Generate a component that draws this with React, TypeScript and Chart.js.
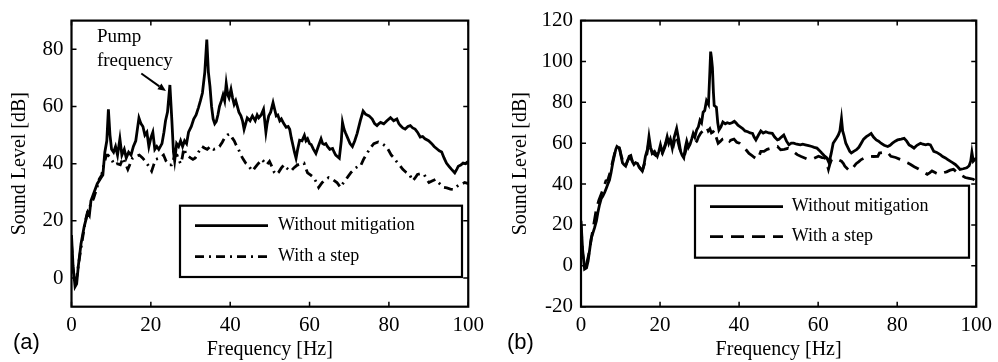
import React, { useEffect, useRef } from 'react';
import { Chart, registerables } from 'chart.js';

Chart.register(...registerables);

// ---------- DATA ----------
const xTicks = [0, 20, 40, 60, 80, 100];
const yTicksA = [0, 20, 40, 60, 80];
const yTicksB = [-20, 0, 20, 40, 60, 80, 100, 120];
const seriesNames = ['Without mitigation', 'With a step'];
const xTitle = 'Frequency [Hz]';
const yTitle = 'Sound Level [dB]';
const panelLabels = ['(a)', '(b)'];
const annotationLines = ['Pump', 'frequency'];

// (a) without mitigation
const freqA1 = [0, 0.4, 0.9, 1.3, 1.7, 2.4, 3.2, 4.1, 4.5, 4.9, 5.7, 6.5, 7.4, 7.9, 8.4, 8.9, 9.3, 9.7, 10.1, 10.6, 11.1, 11.6, 12.2, 12.7, 13.3, 13.8, 14.4, 15.0, 15.6, 16.2, 16.6, 17.0, 17.5, 18.0, 18.5, 19.0, 19.5, 20.0, 20.5, 21.0, 21.5, 22.0, 22.8, 23.3, 23.7, 24.2, 24.8, 25.3, 25.7, 26.0, 26.5, 27.0, 27.5, 28.0, 28.5, 29.0, 29.5, 30.2, 30.8, 31.4, 32.0, 32.5, 33.0, 33.6, 34.1, 34.5, 34.9, 35.3, 35.7, 36.1, 36.5, 36.9, 37.3, 37.8, 38.2, 38.6, 39.0, 39.4, 39.7, 40.2, 40.6, 41.0, 41.4, 41.8, 42.2, 42.7, 43.1, 43.5, 43.9, 44.3, 45.0, 45.6, 46.3, 46.8, 47.2, 47.8, 48.4, 48.7, 49.0, 49.3, 49.7, 50.2, 50.8, 51.2, 51.6, 52.0, 52.5, 52.9, 53.5, 54.1, 54.6, 55.0, 55.4, 55.8, 56.2, 56.6, 57.0, 57.5, 58.1, 58.7, 59.1, 59.5, 60.0, 60.4, 61.0, 61.6, 62.2, 62.9, 63.3, 63.7, 64.1, 64.5, 65.1, 65.8, 66.2, 66.6, 67.0, 67.5, 68.0, 68.3, 68.7, 69.1, 69.6, 70.2, 70.8, 71.4, 72.0, 72.8, 73.5, 74.1, 75.0, 75.8, 76.4, 77.0, 77.5, 77.9, 78.7, 79.5, 80.4, 81.2, 82.0, 82.5, 82.9, 83.5, 84.1, 84.8, 85.4, 86.0, 86.6, 87.2, 87.9, 88.5, 89.1, 90.0, 90.8, 91.4, 92.0, 92.7, 93.3, 93.9, 94.5, 95.2, 95.8, 96.6, 97.1, 97.5, 98.1, 98.7, 99.3, 100];
const levelA1 = [15, 4, -3, -2, 4, 12, 18, 23, 22, 27, 30, 33, 35, 36, 44, 48, 59, 50, 45, 44, 46, 43, 48.7, 43, 45, 42, 44, 43, 46, 48, 52, 56, 54, 53, 50, 51, 46, 49, 51, 45, 46, 45, 47, 51, 55, 58, 67.5, 55, 44, 41, 47, 46, 48, 46, 48, 47, 51, 53, 55.6, 57, 59.6, 62, 64.7, 72, 83.4, 72, 67, 60, 55.6, 54, 54.8, 57, 60, 62, 64, 62, 68, 64, 63, 66, 63, 60.7, 62, 60, 58, 56.7, 55, 52, 54, 56, 55, 56.7, 55, 57, 56, 57, 59, 55, 51, 54, 56.7, 58, 61.3, 59, 56.7, 57, 55, 55.6, 54, 52.7, 53, 52, 49, 46.5, 44, 41.9, 45, 48.2, 48, 49.9, 48, 48.7, 47, 46.7, 45, 43.6, 46, 48.7, 47, 46.7, 47, 46, 45, 45.3, 44, 43, 42.5, 41.9, 48, 54.4, 52, 50.6, 49, 47, 46, 48, 50.6, 55, 58.4, 57.3, 56.7, 55.6, 54, 53.3, 54, 54.4, 53.9, 55, 56.1, 55, 55.6, 54, 53.3, 52.5, 52.1, 53, 53.3, 52.5, 52.1, 51, 49.3, 49.5, 48.7, 48, 47, 46, 45.3, 44.5, 44.1, 42, 40.2, 39, 38, 36.8, 38, 39.1, 39.5, 40.2, 40, 40.8];

// (a) with a step
const freqA2 = [0, 0.4, 0.9, 1.4, 2.0, 2.8, 3.5, 4.2, 5.0, 5.6, 6.3, 7.0, 7.6, 8.2, 8.8, 9.2, 9.8, 10.3, 10.7, 11.5, 12.3, 13.0, 13.6, 14.2, 14.8, 15.4, 16.2, 17.1, 17.9, 18.7, 19.5, 20.2, 20.7, 21.2, 22.4, 23.2, 23.8, 24.5, 25.2, 25.6, 26.0, 26.6, 27.0, 27.5, 27.9, 28.3, 28.7, 29.0, 30.0, 30.6, 31.2, 32.0, 32.9, 33.5, 34.2, 35.0, 35.8, 36.6, 37.3, 38.0, 38.7, 39.3, 39.9, 40.5, 41.0, 41.5, 42.1, 42.7, 43.3, 43.9, 44.5, 45.0, 45.6, 46.2, 46.8, 47.4, 48.0, 48.6, 49.2, 49.9, 50.5, 51.1, 51.6, 52.2, 52.9, 53.6, 54.2, 54.8, 55.3, 56.1, 56.9, 57.8, 58.6, 59.0, 59.5, 60.3, 61.1, 61.7, 62.3, 63.2, 64.0, 64.8, 65.8, 66.9, 67.8, 68.6, 69.5, 70.5, 71.6, 72.2, 72.8, 73.6, 74.5, 75.3, 76.2, 77.3, 78.3, 79.4, 80.0, 80.6, 81.3, 81.9, 82.7, 83.5, 84.3, 85.2, 86.0, 86.6, 87.2, 88.0, 88.9, 89.5, 90.1, 91.0, 91.8, 92.8, 93.8, 94.6, 95.5, 96.3, 97.1, 97.9, 98.5, 99.1, 100];
const levelA2 = [12, 3, -2, 1, 7, 14, 20, 24, 26, 28, 31, 34.6, 36, 40, 43, 43, 42, 41, 39.6, 40, 39.6, 42, 40, 38, 40, 42, 42.5, 43, 42, 40.7, 39, 37.4, 39.5, 41.5, 42, 43, 41, 39.6, 39.6, 41, 43, 43, 41.5, 40, 42, 45.3, 44, 43, 42, 41.5, 42, 44, 46, 45.5, 45, 46, 45, 45.3, 46, 47.5, 49.3, 50, 50.4, 49, 48, 46.5, 45, 43, 41.5, 40.2, 39.5, 38.5, 37.4, 38.5, 39.6, 40.5, 41.5, 40.5, 39.6, 40.8, 39, 37, 36.2, 37, 38.5, 39.6, 38.5, 37.8, 37.4, 38.6, 39.5, 40, 40.2, 38.5, 36.8, 36, 35.1, 33.5, 31.7, 33.4, 34.5, 35.1, 34.5, 33.4, 31.7, 33.5, 35.1, 37, 38.5, 39, 39, 41.5, 43.6, 45.5, 47, 47.6, 47, 45.9, 44.5, 43, 42, 40.8, 39.5, 38, 37, 36.2, 34, 35, 36.2, 36.5, 36.2, 34.5, 33.4, 34, 34.5, 33, 31.7, 31.5, 31.1, 31, 32, 32.8, 33, 33.4, 33];

// (b) without mitigation
const freqB1 = [0, 0.4, 0.9, 1.4, 1.8, 2.2, 2.6, 3.0, 3.4, 3.9, 4.3, 4.7, 5.1, 5.5, 6.0, 6.4, 6.8, 7.2, 7.6, 8.0, 8.4, 8.8, 9.1, 9.4, 9.7, 10.1, 10.5, 10.9, 11.3, 11.7, 12.2, 12.6, 13.0, 13.4, 13.8, 14.3, 14.8, 15.5, 15.9, 16.3, 16.8, 17.2, 17.6, 18.0, 18.6, 19.3, 19.7, 20.1, 20.5, 21.0, 21.4, 21.8, 22.2, 22.6, 23.1, 23.6, 24.2, 24.7, 25.2, 25.6, 26.0, 26.4, 26.75, 27.2, 27.6, 28.0, 28.4, 28.8, 29.25, 29.7, 30.1, 30.5, 30.9, 31.3, 31.75, 32.25, 32.6, 32.8, 33.0, 33.25, 33.5, 33.7, 34.25, 34.6, 34.9, 35.4, 35.9, 36.5, 37.0, 37.6, 38.2, 38.8, 39.2, 39.7, 40.3, 40.9, 41.5, 42.2, 42.8, 43.4, 43.8, 44.25, 44.9, 45.5, 46.1, 46.75, 47.5, 48.4, 49.0, 49.7, 50.1, 50.7, 51.3, 52.0, 52.6, 53.2, 53.8, 54.6, 55.5, 56.1, 56.75, 57.6, 58.4, 59.0, 59.7, 60.3, 60.9, 61.5, 62.2, 62.75, 63.3, 63.8, 64.5, 65.1, 65.5, 65.9, 66.2, 66.5, 67.0, 67.6, 68.0, 68.4, 69.0, 69.7, 70.3, 70.9, 71.5, 72.2, 72.8, 73.4, 74.0, 74.7, 75.3, 75.9, 76.7, 77.6, 78.2, 78.8, 79.5, 80.1, 81.0, 81.75, 82.4, 83.0, 83.6, 84.25, 85.0, 85.9, 86.5, 87.2, 87.8, 88.4, 89.25, 90.0, 90.9, 91.5, 92.2, 92.8, 93.4, 94.0, 94.7, 95.3, 95.9, 96.7, 97.6, 98.2, 98.6, 98.9, 99.25, 100];
const levelB1 = [22, 8, -1.6, -1, 2.4, 8, 13.6, 16, 18.4, 22, 26.4, 30, 32.8, 34, 36, 38, 40, 42, 45.6, 50, 53.6, 57, 58.4, 58, 57.8, 54, 50.4, 49.5, 48.8, 51, 53.6, 54, 51, 49.6, 50.5, 50, 48, 46.4, 49, 53.6, 57, 63.2, 58, 55, 56, 53.6, 56, 59.2, 56, 57.6, 60, 63.2, 60, 62, 57.6, 63, 67.2, 62, 56, 54, 52.8, 58, 61, 58, 59.5, 62, 64.8, 63, 66.4, 68, 71.2, 70, 75.2, 76, 80.8, 79, 95, 104.8, 102, 97, 85, 78.4, 77.6, 70, 66.4, 68, 70.4, 69.5, 70, 69.6, 70, 70.7, 70, 68.8, 68, 67.2, 66, 65.6, 65, 64.8, 63, 61.6, 64, 66, 65, 65.6, 65, 64.8, 63, 61.6, 61.9, 63, 64, 61, 59.2, 60, 60, 59.5, 59.2, 59.5, 59.2, 58.8, 58.4, 58, 57.6, 56.5, 55.2, 54, 52.8, 50.4, 55, 60, 62, 64, 66, 72, 66, 64, 60, 57.6, 56, 55.2, 56, 56.8, 58, 60, 62, 63.2, 64, 64.8, 63, 61.6, 61, 60, 59, 58.4, 59, 60, 61, 61.6, 62, 62.4, 61, 59.2, 58.5, 57.6, 59, 60, 59.5, 59.2, 59.5, 59.2, 56, 55.5, 54.4, 53.5, 52.8, 52, 51.2, 50.5, 49.6, 48.5, 47.2, 47.5, 48, 49, 51.2, 55.5, 51.2, 52.8];

// (b) with a step
const freqB2 = [0, 0.4, 0.9, 1.4, 1.9, 2.5, 3.2, 3.9, 4.5, 5.1, 5.7, 6.3, 6.8, 7.4, 8.0, 8.5, 9.0, 9.4, 9.8, 10.3, 10.8, 11.3, 11.8, 12.3, 12.8, 13.3, 13.9, 14.5, 15.1, 15.6, 16.2, 16.7, 17.2, 17.7, 18.3, 18.9, 19.5, 20.1, 20.6, 21.2, 21.7, 22.3, 22.8, 23.4, 24.0, 24.5, 25.0, 25.6, 26.1, 26.6, 27.2, 27.7, 28.3, 28.8, 29.3, 29.7, 30.3, 30.8, 31.3, 31.8, 32.2, 32.6, 33.0, 33.4, 33.8, 34.2, 34.7, 35.3, 35.8, 36.5, 37.2, 37.6, 38.0, 38.7, 39.4, 40.1, 40.6, 41.0, 41.75, 42.5, 43.2, 43.9, 44.7, 45.1, 45.5, 46.3, 47.1, 48.0, 48.7, 49.3, 49.7, 50.1, 50.5, 51.4, 52.4, 53.4, 54.0, 54.7, 55.7, 56.6, 57.6, 58.8, 60.1, 61.0, 61.75, 62.2, 62.6, 63.0, 63.4, 64.2, 65.0, 65.9, 66.4, 66.75, 67.4, 68.0, 68.8, 69.6, 70.3, 70.9, 72.0, 73.0, 74.0, 75.1, 75.5, 76.4, 77.2, 77.8, 78.4, 79.6, 80.9, 81.8, 82.6, 83.4, 84.3, 85.3, 86.3, 87.0, 87.6, 88.2, 88.8, 89.7, 90.5, 91.1, 91.75, 92.5, 93.4, 94.25, 95.0, 95.9, 96.5, 97.2, 98.2, 99.25, 100];
const levelB2 = [20, 6, 0, 1, 5, 12, 20, 28, 32, 35, 38, 41.6, 42, 46, 51, 55, 57.5, 58.5, 57, 53, 50, 49, 51.5, 53, 52, 50, 49.5, 49, 47.5, 47, 51, 55, 61, 57, 55, 54, 55, 57, 55, 58, 61, 59, 61, 59, 64, 61, 57, 55, 53.5, 57, 59, 60, 59, 60, 61, 63, 65, 66, 67.2, 68, 66, 67, 65, 65.5, 66.4, 63, 60, 61, 62, 62.5, 62.4, 61, 61.6, 62, 60.5, 60, 59, 58.4, 56.8, 55, 54, 53, 52, 54, 56, 56, 57, 57.5, 58, 58.4, 58.4, 57.6, 56.8, 57, 57.5, 56.8, 55.5, 54.4, 53.5, 52.8, 52, 52.5, 53.6, 53, 52.8, 50, 47.2, 50, 52, 52.5, 52, 51.2, 50, 48.8, 47.5, 46.4, 48, 50, 51, 52, 53, 53.6, 53.5, 53.6, 55.2, 55.5, 56, 55, 53.6, 53, 52, 51, 50.4, 49.6, 48.5, 47.5, 46.4, 45.5, 44.8, 45.5, 46.4, 45.5, 44.8, 45, 45.6, 46, 46.8, 47.2, 46, 44.8, 44, 43.2, 42.8, 42.4, 41];

// ---------- helpers ----------
const SERIF = '"Liberation Serif", "Times New Roman", Times, serif';
const SANS = '"Liberation Sans", Arial, sans-serif';

function pts(xs: number[], ys: number[]) {
  return xs.map((x, i) => ({ x, y: ys[i] }));
}

type PanelOpts = {
  s1: { x: number; y: number }[];
  s2: { x: number; y: number }[];
  dash2: number[];
  yMin: number;
  yMax: number;
  yTicks: number[];
  yAxisWidth: number;
  yTitlePad: number;
  padRight: number;
  padTop: number;
  legend: { left: number; top: number; right: number; bottom: number; lineX0: number; lineX1: number; textX: number; row1: number; row2: number };
  label: string;
  labelX: number;
  annotate: boolean;
};

function makeConfig(o: PanelOpts): any {
  const framePlugin = {
    id: 'frameAndExtras',
    afterDatasetsDraw(chart: any) {
      const { ctx, chartArea: a, scales } = chart;
      ctx.save();
      ctx.strokeStyle = '#000';
      ctx.fillStyle = '#000';
      // inward ticks
      ctx.lineWidth = 1.5;
      const L = 5;
      ctx.beginPath();
      for (const v of xTicks) {
        const px = scales.x.getPixelForValue(v);
        ctx.moveTo(px, a.bottom); ctx.lineTo(px, a.bottom - L);
        ctx.moveTo(px, a.top); ctx.lineTo(px, a.top + L);
      }
      for (const v of o.yTicks) {
        const py = scales.y.getPixelForValue(v);
        ctx.moveTo(a.left, py); ctx.lineTo(a.left + L, py);
        ctx.moveTo(a.right, py); ctx.lineTo(a.right - L, py);
      }
      ctx.stroke();
      // frame
      ctx.lineWidth = 2.2;
      ctx.strokeRect(a.left, a.top, a.right - a.left, a.bottom - a.top);

      // legend
      const lg = o.legend;
      ctx.fillStyle = '#fff';
      ctx.fillRect(lg.left, lg.top, lg.right - lg.left, lg.bottom - lg.top);
      ctx.lineWidth = 2.2;
      ctx.strokeStyle = '#000';
      ctx.strokeRect(lg.left, lg.top, lg.right - lg.left, lg.bottom - lg.top);
      ctx.lineWidth = 2.7;
      ctx.setLineDash([]);
      ctx.beginPath(); ctx.moveTo(lg.lineX0, lg.row1); ctx.lineTo(lg.lineX1, lg.row1); ctx.stroke();
      ctx.setLineDash(o.dash2);
      ctx.beginPath(); ctx.moveTo(lg.lineX0, lg.row2); ctx.lineTo(lg.lineX1, lg.row2); ctx.stroke();
      ctx.setLineDash([]);
      ctx.fillStyle = '#000';
      ctx.font = `18px ${SERIF}`;
      ctx.textAlign = 'left';
      ctx.textBaseline = 'middle';
      ctx.fillText(seriesNames[0], lg.textX, lg.row1);
      ctx.fillText(seriesNames[1], lg.textX, lg.row2);

      // annotation
      if (o.annotate) {
        const tx = scales.x.getPixelForValue(6.4);
        ctx.font = `19px ${SERIF}`;
        ctx.textBaseline = 'alphabetic';
        ctx.fillText(annotationLines[0], tx, scales.y.getPixelForValue(82.5));
        ctx.fillText(annotationLines[1], tx, scales.y.getPixelForValue(74.3));
        const x0 = scales.x.getPixelForValue(17.6);
        const y0 = scales.y.getPixelForValue(71.5);
        const x1 = scales.x.getPixelForValue(23.8);
        const y1 = scales.y.getPixelForValue(65.4);
        const ang = Math.atan2(y1 - y0, x1 - x0);
        const hl = 8, hw = 3.5;
        const bx = x1 - hl * Math.cos(ang), by = y1 - hl * Math.sin(ang);
        ctx.lineWidth = 2;
        ctx.beginPath(); ctx.moveTo(x0, y0); ctx.lineTo(bx, by); ctx.stroke();
        ctx.beginPath();
        ctx.moveTo(x1, y1);
        ctx.lineTo(bx + hw * Math.sin(ang), by - hw * Math.cos(ang));
        ctx.lineTo(bx - hw * Math.sin(ang), by + hw * Math.cos(ang));
        ctx.closePath(); ctx.fill();
      }

      // panel label
      ctx.font = `22px ${SANS}`;
      ctx.textBaseline = 'alphabetic';
      ctx.textAlign = 'left';
      ctx.fillText(o.label, o.labelX, 348.5);
      ctx.restore();
    },
  };

  return {
    type: 'line',
    data: {
      datasets: [
        { label: seriesNames[0], data: o.s1, borderColor: '#000', borderWidth: 2.8, pointRadius: 0, tension: 0, fill: false },
        { label: seriesNames[1], data: o.s2, borderColor: '#000', borderWidth: 2.8, borderDash: o.dash2, pointRadius: 0, tension: 0, fill: false },
      ],
    },
    options: {
      animation: false,
      responsive: false,
      devicePixelRatio: 1,
      layout: { padding: { left: 0, right: o.padRight, top: o.padTop, bottom: 0 } },
      plugins: { legend: { display: false }, tooltip: { enabled: false } },
      scales: {
        x: {
          type: 'linear',
          min: 0,
          max: 100,
          afterBuildTicks: (s: any) => { s.ticks = xTicks.map((v) => ({ value: v })); },
          afterFit: (s: any) => { s.height = 362 - 306.7; },
          grid: { display: false, drawTicks: false },
          border: { display: false },
          ticks: { autoSkip: false, maxRotation: 0, padding: 6, color: '#000', font: { family: SERIF, size: 21 }, callback: (v: any) => String(v) },
          title: { display: true, text: xTitle, color: '#000', font: { family: SERIF, size: 20 }, padding: { top: 0, bottom: 0 } },
        },
        y: {
          type: 'linear',
          min: o.yMin,
          max: o.yMax,
          afterBuildTicks: (s: any) => { s.ticks = o.yTicks.map((v) => ({ value: v })); },
          afterFit: (s: any) => { s.width = o.yAxisWidth; },
          grid: { display: false, drawTicks: false },
          border: { display: false },
          ticks: { autoSkip: false, padding: 8, color: '#000', font: { family: SERIF, size: 21 }, callback: (v: any) => String(v) },
          title: { display: true, text: yTitle, color: '#000', font: { family: SERIF, size: 20 }, padding: { top: o.yTitlePad, bottom: 0 } },
        },
      },
    },
    plugins: [framePlugin],
  };
}

function Panel({ cfg, left, width }: { cfg: () => any; left: number; width: number }) {
  const ref = useRef<HTMLCanvasElement | null>(null);
  useEffect(() => {
    if (!ref.current) return;
    const chart = new Chart(ref.current, cfg());
    return () => chart.destroy();
  }, []);
  return (
    <canvas
      ref={ref}
      width={width}
      height={362}
      style={{ position: 'absolute', left, top: 0, width, height: 362, display: 'block' }}
    />
  );
}

export default function App() {
  const cfgA = () =>
    makeConfig({
      s1: pts(freqA1, levelA1),
      s2: pts(freqA2, levelA2),
      dash2: [9, 5, 2, 5],
      yMin: -10,
      yMax: 90,
      yTicks: yTicksA,
      yAxisWidth: 71.5,
      yTitlePad: 8,
      padRight: 18.5,
      padTop: 14.3,
      legend: { left: 180, top: 205.7, right: 462, bottom: 277, lineX0: 195, lineX1: 268, textX: 278, row1: 225.7, row2: 256.7 },
      label: panelLabels[0],
      labelX: 13,
      annotate: true,
    });
  const cfgB = () =>
    makeConfig({
      s1: pts(freqB1, levelB1),
      s2: pts(freqB2, levelB2),
      dash2: [13, 8],
      yMin: -20,
      yMax: 120,
      yTicks: yTicksB,
      yAxisWidth: 91,
      yTitlePad: 18.5,
      padRight: 17,
      padTop: 15,
      legend: { left: 205, top: 185.7, right: 479, bottom: 257.7, lineX0: 220, lineX1: 293, textX: 301.7, row1: 206.7, row2: 236.7 },
      label: panelLabels[1],
      labelX: 17,
      annotate: false,
    });
  return (
    <div style={{ position: 'absolute', left: 0, top: 0, width: 998, height: 362, background: '#fff', overflow: 'hidden' }}>
      <Panel cfg={cfgA} left={0} width={490} />
      <Panel cfg={cfgB} left={490} width={508} />
    </div>
  );
}
